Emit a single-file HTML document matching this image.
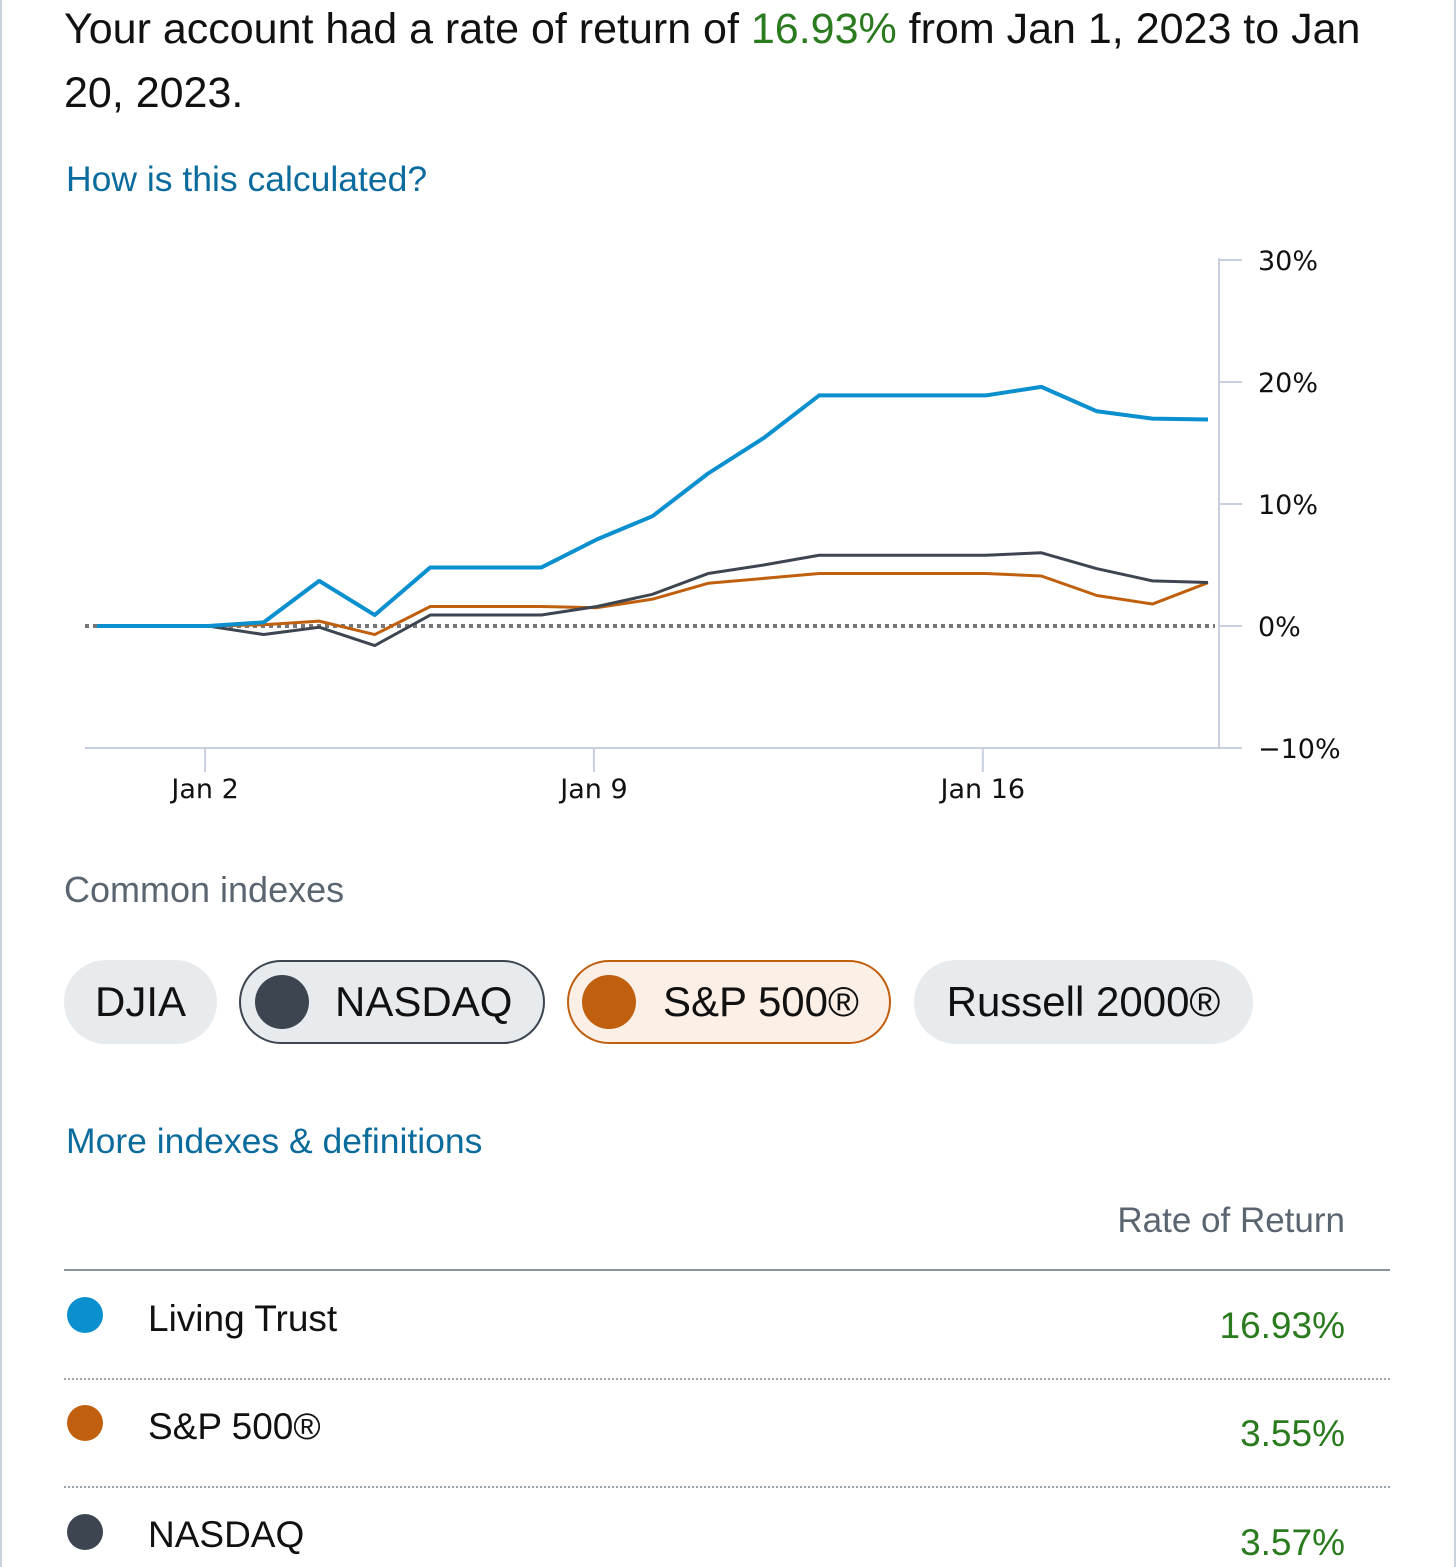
<!DOCTYPE html>
<html><head><meta charset="utf-8">
<style>
html,body{margin:0;padding:0;background:#fff;}
body{width:1456px;height:1567px;position:relative;overflow:hidden;font-family:"Liberation Sans",Arial,sans-serif;color:#111;}
.frame{position:absolute;left:0;top:0;width:1452px;height:1567px;border-left:2px solid #c9d3de;border-right:2px solid #c9d3de;}
.headline{position:absolute;left:64px;top:-3px;width:1380px;font-size:43px;line-height:64px;color:#111;white-space:nowrap;}
.green{color:#2a7a1e;}
.link{position:absolute;color:#0a6b9c;font-size:35.5px;}
.pill{position:absolute;top:960px;height:84px;border-radius:42px;background:#e8ebee;box-sizing:border-box;font-size:42px;line-height:84px;color:#111;}
.dot{position:absolute;border-radius:50%;}
.row-label{position:absolute;left:148px;font-size:37px;color:#111;}
.row-val{position:absolute;right:111px;font-size:37px;color:#2a7a1e;}
.sep{position:absolute;left:64px;width:1326px;border-top:2px dotted #9aa2aa;}
</style></head><body>
<div class="frame"></div>
<div class="headline">Your account had a rate of return of <span class="green">16.93%</span> from Jan 1, 2023 to Jan<br>20, 2023.</div>
<div class="link" style="left:66px;top:159px;">How is this calculated?</div>

<svg id="chart" width="1456" height="820" style="position:absolute;left:0;top:0"></svg>

<div style="position:absolute;left:64px;top:869px;font-size:36px;color:#5a6570;">Common indexes</div>
<div class="pill" style="left:64px;width:153px;text-align:center;">DJIA</div>
<div class="pill" style="left:239px;width:306px;border:2px solid #3c4550;padding-left:94px;line-height:80px;"><span class="dot" style="left:14px;top:13px;width:54px;height:54px;background:#3d4650;"></span>NASDAQ</div>
<div class="pill" style="left:567px;width:324px;border:2px solid #c0600f;background:#fbefe6;padding-left:94px;line-height:80px;"><span class="dot" style="left:13px;top:13px;width:54px;height:54px;background:#c0600f;"></span>S&amp;P 500®</div>
<div class="pill" style="left:914px;width:339px;text-align:center;">Russell 2000®</div>

<div class="link" style="left:66px;top:1121px;">More indexes &amp; definitions</div>
<div style="position:absolute;right:111px;top:1201px;font-size:35px;color:#5a6570;">Rate of Return</div>
<div style="position:absolute;left:64px;top:1269px;width:1326px;border-top:2px solid #8a9399;"></div>

<span class="dot" style="left:67px;top:1297px;width:36px;height:36px;background:#0a8fcf;"></span>
<div class="row-label" style="top:1298px;">Living Trust</div>
<div class="row-val" style="top:1305px;">16.93%</div>
<div class="sep" style="top:1378px;"></div>
<span class="dot" style="left:67px;top:1405px;width:36px;height:36px;background:#c0600f;"></span>
<div class="row-label" style="top:1406px;">S&amp;P 500®</div>
<div class="row-val" style="top:1413px;">3.55%</div>
<div class="sep" style="top:1486px;"></div>
<span class="dot" style="left:67px;top:1514px;width:36px;height:36px;background:#3d4650;"></span>
<div class="row-label" style="top:1514px;">NASDAQ</div>
<div class="row-val" style="top:1522px;">3.57%</div>

<script>
const days = [0,1,2,3,4,5,6,7,8,9,10,11,12,13,14,15,16,17,18,19,20];
const trustVals = [0,0,0,0.3,3.7,0.9,4.8,4.8,4.8,7.1,9.0,12.5,15.4,18.9,18.9,18.9,18.9,19.6,17.6,17.0,16.93];
const nasdaqVals = [0,0,0,-0.7,-0.1,-1.6,0.9,0.9,0.9,1.6,2.6,4.3,5.0,5.8,5.8,5.8,5.8,6.0,4.7,3.7,3.57];
const spVals = [0,0,0,0.1,0.4,-0.7,1.6,1.6,1.6,1.5,2.2,3.5,3.9,4.3,4.3,4.3,4.3,4.1,2.5,1.8,3.55];
const yTicks = [30,20,10,0,-10];
const yTickLabels = ["30%","20%","10%","0%","\u221210%"];
const xTickDays = [2,9,16];
const xTickLabels = ["Jan 2","Jan 9","Jan 16"];

const svg = document.getElementById('chart');
const NS = 'http://www.w3.org/2000/svg';
const x = d => 97 + d * 55.55;
const y = v => 626 - v * 12.2;
function mk(tag, attrs){const e=document.createElementNS(NS,tag);for(const k in attrs)e.setAttribute(k,attrs[k]);svg.appendChild(e);return e;}

const axisColor = '#c8d0e0';
let e = mk('line',{x1:1219,y1:y(30)-2,x2:1219,y2:y(-10),stroke:axisColor,'stroke-width':2});


e = mk('line',{x1:85,y1:y(-10),x2:1219,y2:y(-10),stroke:axisColor,'stroke-width':2});



yTicks.forEach((v,i)=>{
  const t = mk('line',{x1:1219,y1:y(v),x2:1242,y2:y(v),stroke:axisColor,'stroke-width':2});
  
  
  const l = mk('text',{x:1258,y:y(v)+10,'font-size':27,fill:'#111','font-family':'DejaVu Sans, Liberation Sans, sans-serif'});
  l.textContent = yTickLabels[i];
  
  
});
xTickDays.forEach((d,i)=>{
  const t = mk('line',{x1:x(d)-3,y1:y(-10),x2:x(d)-3,y2:y(-10)+24,stroke:axisColor,'stroke-width':2});
  
  
  const l = mk('text',{x:x(d)-3,y:798,'font-size':27,fill:'#111','text-anchor':'middle','font-family':'DejaVu Sans, Liberation Sans, sans-serif'});
  l.textContent = xTickLabels[i];
  
  
});
e = mk('line',{x1:85,y1:y(0),x2:1215,y2:y(0),stroke:'#777','stroke-width':4,'stroke-dasharray':'4 4'});



function series(vals,color,w,name){
  const p = mk('polyline',{points:days.map((d,i)=>x(d)+','+y(vals[i])).join(' '),fill:'none',stroke:color,'stroke-width':w,'stroke-linejoin':'round'});
  
  
}
series(spVals,'#c0600f',3,'sp500-line');
series(nasdaqVals,'#3d4650',3,'nasdaq-line');
series(trustVals,'#0a8fcf',4,'living-trust-line');
</script>
</body></html>
